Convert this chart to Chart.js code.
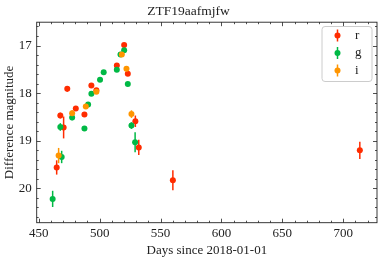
<!DOCTYPE html>
<html><head><meta charset="utf-8">
<script src="https://cdn.jsdelivr.net/npm/chart.js@4/dist/chart.umd.min.js"></script>
<style>html,body{margin:0;padding:0;background:#fff}#wrap{width:381px;height:258px}</style>
</head><body><div id="wrap"><canvas id="c" width="381" height="258"></canvas></div>
<script>
const title = 'ZTF19aafmjfw';
const xLabel = 'Days since 2018-01-01';
const yLabel = 'Difference magnitude';
const xTicks = [450, 500, 550, 600, 650, 700];
const yTicks = [17, 18, 19, 20];

const rDays = [464.7, 467.7, 470.4, 473.4, 480.4, 487.5, 493.2, 497.3, 514.1, 520.1, 523.1, 529.3, 532.1, 560.1, 713.6];
const rMag  = [19.56, 18.47, 18.72, 17.91, 18.32, 18.45, 17.84, 17.94, 17.42, 16.99, 17.59, 18.59, 19.14, 19.83, 19.20];
const rErr  = [0.15, 0.06, 0.23, 0.06, 0.04, 0.04, 0.04, 0.04, 0.04, 0.04, 0.05, 0.12, 0.16, 0.21, 0.18];

const gDays = [461.4, 467.7, 468.8, 477.4, 487.5, 490.5, 493.2, 500.3, 503.3, 514.1, 517.1, 520.1, 523.1, 526.1, 529.1];
const gMag  = [20.22, 18.71, 19.34, 18.51, 18.74, 18.24, 18.01, 17.72, 17.56, 17.51, 17.19, 17.10, 17.81, 18.68, 19.03];
const gErr  = [0.17, 0.08, 0.13, 0.06, 0.03, 0.05, 0.03, 0.04, 0.03, 0.03, 0.03, 0.04, 0.03, 0.07, 0.21];

const iDays = [466.3, 477.4, 488.6, 497.3, 518.2, 522.0, 526.1];
const iMag  = [19.31, 18.42, 18.28, 17.97, 17.19, 17.49, 18.44];
const iErr  = [0.16, 0.06, 0.05, 0.04, 0.03, 0.05, 0.08];

const bands = ['r', 'g', 'i'];
const colors = ['#FF2C00', '#00B945', '#FF9500'];

const FONT = 'Liberation Serif';
const INK = '#222';

function pts(d, m, e) { return d.map((x, k) => ({x: x, y: m[k], err: e[k]})); }

const errorBars = {
  id: 'errorBars',
  beforeDatasetDraw(chart, args) {
    const ds = chart.data.datasets[args.index];
    const xs = chart.scales.x, ys = chart.scales.y, ctx = chart.ctx;
    ctx.save();
    ctx.strokeStyle = ds.backgroundColor;
    ctx.lineWidth = 1.5;
    ds.data.forEach(p => {
      const px = xs.getPixelForValue(p.x);
      ctx.beginPath();
      ctx.moveTo(px, ys.getPixelForValue(p.y - p.err));
      ctx.lineTo(px, ys.getPixelForValue(p.y + p.err));
      ctx.stroke();
    });
    ctx.restore();
  }
};

const frame = {
  id: 'frame',
  afterDraw(chart) {
    const {ctx, chartArea: a, scales: {x, y}} = chart;
    ctx.save();
    ctx.strokeStyle = INK;
    ctx.lineWidth = 0.9;
    ctx.strokeRect(a.left, a.top, a.right - a.left, a.bottom - a.top);
    ctx.lineWidth = 0.8;
    ctx.beginPath();
    for (let v = 450; v <= x.max; v += 10) {
      const px = Math.round(x.getPixelForValue(v)) + 0.5;
      const L = (v % 50 === 0) ? 4 : 2;
      ctx.moveTo(px, a.bottom); ctx.lineTo(px, a.bottom - L);
      ctx.moveTo(px, a.top); ctx.lineTo(px, a.top + L);
    }
    for (let k = 0; k <= 25; k++) {
      const v = 16.6 + k * 0.2;
      if (v > y.max) break;
      const py = Math.round(y.getPixelForValue(v)) + 0.5;
      const L = (Math.abs(v - Math.round(v)) < 1e-6) ? 4 : 2;
      ctx.moveTo(a.left, py); ctx.lineTo(a.left + L, py);
      ctx.moveTo(a.right, py); ctx.lineTo(a.right - L, py);
    }
    ctx.stroke();

    // legend
    const bx = 322, by = 26.5, bw = 50, bh = 55, r = 3;
    ctx.beginPath();
    ctx.moveTo(bx + r, by);
    ctx.arcTo(bx + bw, by, bx + bw, by + bh, r);
    ctx.arcTo(bx + bw, by + bh, bx, by + bh, r);
    ctx.arcTo(bx, by + bh, bx, by, r);
    ctx.arcTo(bx, by, bx + bw, by, r);
    ctx.closePath();
    ctx.fillStyle = 'rgba(255,255,255,0.85)';
    ctx.fill();
    ctx.strokeStyle = '#cccccc';
    ctx.lineWidth = 1;
    ctx.stroke();
    chart.data.datasets.forEach((ds, k) => {
      const cy = 35.5 + k * 17.5;
      const cx = 337.5;
      ctx.strokeStyle = ds.backgroundColor;
      ctx.lineWidth = 1.5;
      ctx.beginPath(); ctx.moveTo(cx, cy - 6); ctx.lineTo(cx, cy + 6); ctx.stroke();
      ctx.fillStyle = ds.backgroundColor;
      ctx.beginPath(); ctx.arc(cx, cy, 3, 0, Math.PI * 2); ctx.fill();
      ctx.fillStyle = INK;
      ctx.font = '13px "' + FONT + '"';
      ctx.textAlign = 'left';
      ctx.textBaseline = 'middle';
      ctx.fillText(ds.label, 355, cy);
    });
    ctx.restore();
  }
};

const allDays = [rDays, gDays, iDays], allMag = [rMag, gMag, iMag], allErr = [rErr, gErr, iErr];
const datasets = bands.map((b, k) => ({
  label: b,
  data: pts(allDays[k], allMag[k], allErr[k]),
  backgroundColor: colors[k],
  borderColor: colors[k],
  borderWidth: 0,
  pointRadius: 3,
  order: 3 - k
}));

const tickFont = {family: FONT, size: 13};

new Chart(document.getElementById('c'), {
  type: 'scatter',
  data: {datasets},
  plugins: [errorBars, frame],
  options: {
    responsive: false,
    animation: false,
    events: [],
    layout: {padding: {left: 0, right: 4, top: 0, bottom: 0}},
    plugins: {
      legend: {display: false},
      tooltip: {enabled: false},
      title: {display: true, text: title, color: INK,
              font: {family: FONT, size: 13.5, weight: 'normal'},
              padding: {top: 3, bottom: 3}}
    },
    scales: {
      x: {
        type: 'linear', min: 448.3, max: 727.7,
        afterBuildTicks: s => { s.ticks = xTicks.map(v => ({value: v})); },
        afterFit: s => { s.height = 35.3; },
        grid: {display: false, drawTicks: false, tickLength: 0}, border: {display: false},
        ticks: {font: tickFont, color: INK, padding: 3, maxRotation: 0, callback: v => String(v)},
        title: {display: true, text: xLabel, color: INK, font: tickFont, padding: {top: 1, bottom: 0}}
      },
      y: {
        type: 'linear', reverse: true, min: 16.51, max: 20.72,
        afterBuildTicks: s => { s.ticks = yTicks.map(v => ({value: v})); },
        afterFit: s => { s.width = 36.7; },
        grid: {display: false, drawTicks: false, tickLength: 0}, border: {display: false},
        ticks: {font: tickFont, color: INK, padding: 5, callback: v => String(v)},
        title: {display: true, text: yLabel, color: INK, font: tickFont, padding: {top: 2, bottom: 0}}
      }
    }
  }
});
</script>
</body></html>
